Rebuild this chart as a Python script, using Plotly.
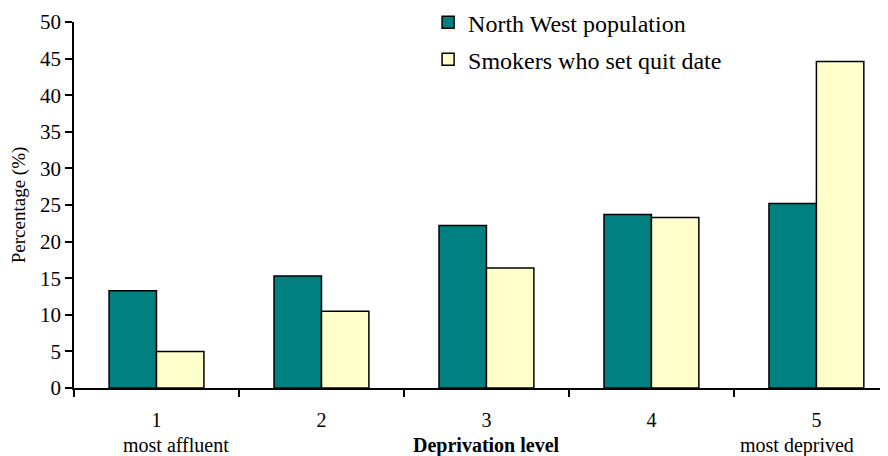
import plotly.graph_objects as go

categories = ["1", "2", "3", "4", "5"]
north_west = [13.3, 15.3, 22.2, 23.7, 25.2]
smokers = [5.0, 10.5, 16.4, 23.3, 44.6]
series_names = ["North West population", "Smokers who set quit date"]
y_ticks = [0, 5, 10, 15, 20, 25, 30, 35, 40, 45, 50]

FONT = "Liberation Serif, Times New Roman, serif"

fig = go.Figure()
fig.add_trace(go.Bar(x=categories, y=north_west, name=series_names[0], legendgroup="a",
                     marker=dict(color="#008080", line=dict(color="black", width=1.5))))
fig.add_trace(go.Bar(x=categories, y=smokers, name=series_names[1], legendgroup="b",
                     marker=dict(color="#FFFFCC", line=dict(color="black", width=1.5))))

# page body has an 8px margin, so the figure is sized/offset to compensate
fig.update_layout(
    width=880, height=448,
    margin=dict(l=66, r=0, t=14, b=68, autoexpand=False),
    paper_bgcolor="white", plot_bgcolor="white",
    barmode="group", bargap=0.425, bargroupgap=0,
    font=dict(family=FONT, size=20, color="black"),
    showlegend=True,
    legend=dict(x=0.435, y=1.06, xanchor="left", yanchor="top",
                font=dict(family=FONT, size=24), bgcolor="rgba(0,0,0,0)",
                traceorder="grouped", tracegroupgap=3, itemwidth=30),
    xaxis=dict(type="category", range=[-0.5, 4.434], showline=True, linecolor="black",
               linewidth=1.5, ticks="outside", tickson="boundaries", ticklen=7,
               tickwidth=1.5, tickcolor="black", showgrid=False, zeroline=False,
               automargin=False,
               tickfont=dict(family=FONT, size=20), ticklabelstandoff=13),
    yaxis=dict(range=[0, 50], tickvals=y_ticks, showline=True, linecolor="black",
               linewidth=1.5, ticks="outside", ticklen=7, tickwidth=1.5,
               tickcolor="black", showgrid=False, zeroline=False, automargin=False,
               tickfont=dict(family=FONT, size=21),
               title=dict(text="Percentage (%)", font=dict(family=FONT, size=19), standoff=10)),
)

fig.add_annotation(x=0.12, y=-0.156, xref="x", yref="paper", text="most affluent",
                   showarrow=False, font=dict(family=FONT, size=20), yanchor="middle")
fig.add_annotation(x=2, y=-0.156, xref="x", yref="paper", text="<b>Deprivation level</b>",
                   showarrow=False, font=dict(family=FONT, size=20), yanchor="middle")
fig.add_annotation(x=3.885, y=-0.156, xref="x", yref="paper", text="most deprived",
                   showarrow=False, font=dict(family=FONT, size=20), yanchor="middle")

fig.write_html("out.html")
